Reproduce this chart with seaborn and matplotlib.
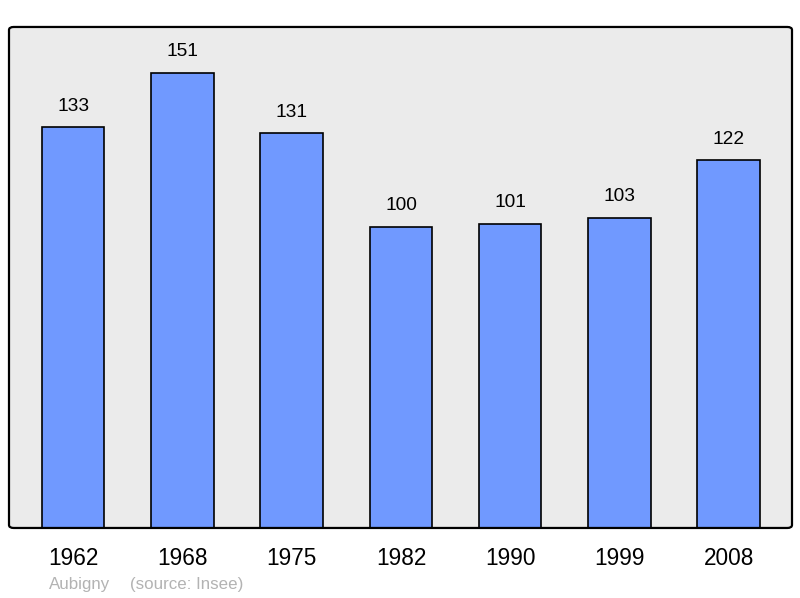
import matplotlib
matplotlib.use("Agg")
import matplotlib.pyplot as plt
import seaborn as sns
import pandas as pd
from matplotlib.patches import FancyBboxPatch

years = ["1962", "1968", "1975", "1982", "1990", "1999", "2008"]
population = [133, 151, 131, 100, 101, 103, 122]
commune = "Aubigny"
source = "(source: Insee)"

sns.set_theme(style="white")
plt.rcParams["font.family"] = ["Liberation Sans", "DejaVu Sans"]

df = pd.DataFrame({"year": years, "pop": population})

fig = plt.figure(figsize=(8, 5.98), dpi=100)
ax = fig.add_axes([0.01125, 0.1171, 0.97875, 0.8378])
ax.set_facecolor("#ebebeb")

sns.barplot(data=df, x="year", y="pop", color="#7099ff", saturation=1,
            width=0.572, edgecolor="black", linewidth=1.2, ax=ax)

ax.set_xlim(-0.588, 6.579)
ax.set_ylim(0, 166.3)
ax.set_xlabel("")
ax.set_ylabel("")
ax.set_yticks([])
ax.tick_params(axis="x", length=0, pad=13.5, labelsize=16.3, colors="black")

for i, v in enumerate(population):
    ax.text(i, v + 7.0, str(v), ha="center", va="center", fontsize=13.8, color="black")

for s in ax.spines.values():
    s.set_visible(False)
frame = FancyBboxPatch((0, 0), 1, 1, boxstyle="round,pad=0,rounding_size=0.006",
                       transform=ax.transAxes, facecolor="none", edgecolor="black",
                       linewidth=1.6, clip_on=False, zorder=5)
ax.add_patch(frame)

fig.text(49 / 800, 1 - 584 / 598, commune, ha="left", va="center",
         fontsize=12.2, color="#b3b3b3")
fig.text(130 / 800, 1 - 584 / 598, source, ha="left", va="center",
         fontsize=12.2, color="#b3b3b3")

fig.savefig("out.png", dpi=100)
